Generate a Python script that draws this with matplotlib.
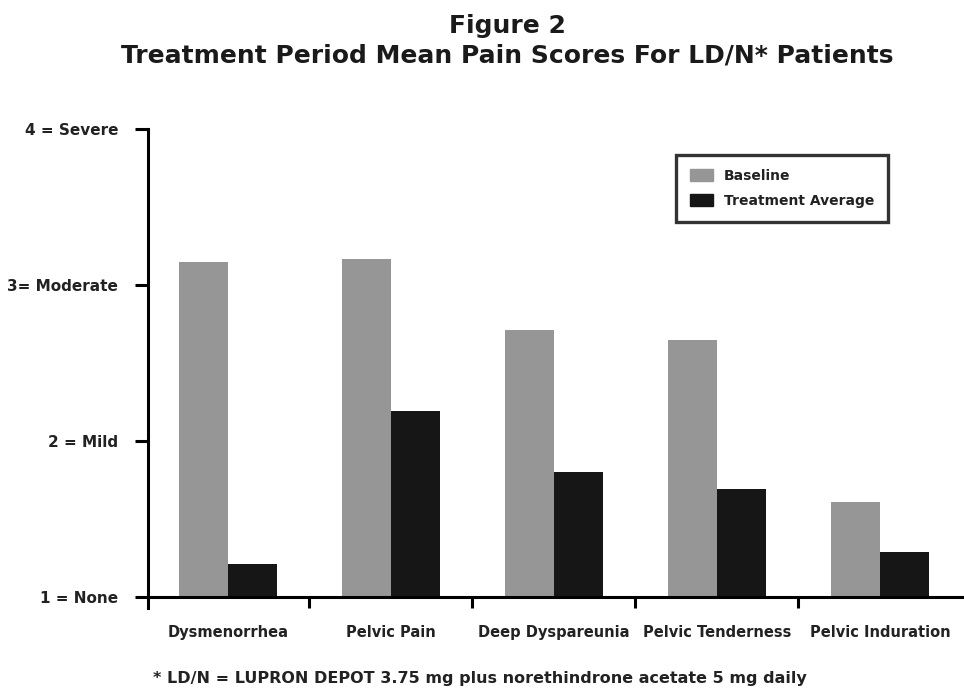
import matplotlib as mpl
mpl.use('Agg')
from matplotlib import pyplot as plt
from matplotlib.patches import Patch
import numpy as np

# data
categories = ['Dysmenorrhea', 'Pelvic Pain', 'Deep Dyspareunia', 'Pelvic Tenderness', 'Pelvic Induration']
baseline = [3.15, 3.17, 2.71, 2.65, 1.61]
treatment = [1.21, 2.19, 1.80, 1.69, 1.29]
ytick_vals = [1, 2, 3, 4]
ytick_labels = ['1 = None', '2 = Mild', '3= Moderate', '4 = Severe']

plt.rcParams['font.family'] = ['DejaVu Sans']
plt.rcParams['font.weight'] = 'bold'

gray = '#969696'
dark = '#161616'

fig = plt.figure(figsize=(9.64, 6.91), dpi=100)
ax = fig.add_axes([0.1535, 0.120, 0.8455, 0.6933])

x = np.arange(len(categories))
w = 0.30
ax.bar(x - w / 2, np.array(baseline) - 1, w, bottom=1, color=gray, label='Baseline')
ax.bar(x + w / 2, np.array(treatment) - 1, w, bottom=1, color=dark, label='Treatment Average')

ax.set_xlim(-0.49, 4.51)
ax.set_ylim(0.93, 4.0)

for s in ['top', 'right']:
    ax.spines[s].set_visible(False)
ax.spines['bottom'].set_position(('data', 1))
ax.spines['left'].set_linewidth(2.2)
ax.spines['bottom'].set_linewidth(2.2)

ax.set_yticks(ytick_vals)
ax.set_yticklabels(ytick_labels, fontsize=11, fontweight='bold', color='#222222')
ax.tick_params(axis='y', length=9.5, width=2.2, pad=12)

# separators between groups as ticks, names as text under each group
ax.set_xticks(x[:-1] + 0.5)
ax.set_xticklabels([])
ax.tick_params(axis='x', length=8, width=2.2)
for xi, name in zip(x, categories):
    ax.text(xi, 0.744, name, ha='center', va='baseline', fontsize=10.5, fontweight='bold',
            color='#222222')

leg = ax.legend(handles=[Patch(color=gray, label='Baseline'),
                         Patch(color=dark, label='Treatment Average')],
                loc='upper right', bbox_to_anchor=(0.921, 0.776), bbox_transform=fig.transFigure,
                borderaxespad=0, frameon=True, fancybox=False,
                prop={'size': 10, 'weight': 'bold'}, handlelength=1.65, handleheight=0.95,
                borderpad=1.0, labelspacing=0.8, handletextpad=0.75)
leg.get_frame().set_edgecolor('black')
leg.get_frame().set_linewidth(2.4)
for t in leg.get_texts():
    t.set_color('#222222')

fig.text(0.526, 0.952, 'Figure 2', ha='center', va='baseline', fontsize=18, fontweight='bold',
         color='#1a1a1a')
fig.text(0.526, 0.909, 'Treatment Period Mean Pain Scores For LD/N* Patients', ha='center',
         va='baseline', fontsize=18, fontweight='bold', color='#1a1a1a')
fig.text(0.498, 0.0116, '* LD/N = LUPRON DEPOT 3.75 mg plus norethindrone acetate 5 mg daily',
         ha='center', va='baseline', fontsize=11.5, fontweight='bold', color='#222222')

plt.savefig('out.png', dpi=100)
